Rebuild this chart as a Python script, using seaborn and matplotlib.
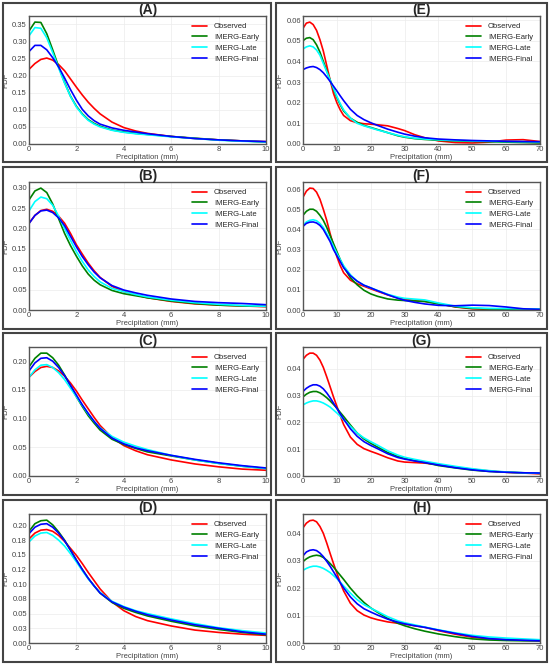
import numpy as np
import pandas as pd
import seaborn as sns
import matplotlib
matplotlib.use("Agg")
import matplotlib.pyplot as plt
from matplotlib.patches import Rectangle
from matplotlib.ticker import FormatStrFormatter

# precipitation grids (mm)
X10 = [0, 0.25, 0.5, 0.75, 1, 1.25, 1.5, 1.75, 2, 2.25, 2.5, 2.75, 3, 3.5, 4, 4.5, 5, 6, 7, 8, 9, 10]
X70 = [0, 1, 2, 3, 4, 5, 6, 7, 8, 9, 10, 11, 12, 14, 16, 18, 20, 22, 25, 28, 30, 33, 36, 40, 45, 50, 55, 60, 65, 70]

SERIES = ["Observed", "IMERG-Early", "IMERG-Late", "IMERG-Final"]
COLORS = ["#ff0000", "#008000", "#00ffff", "#0000ff"]

# (A)
A_OBS = [0.218, 0.235, 0.247, 0.251, 0.245, 0.232, 0.214, 0.190, 0.166, 0.143, 0.122, 0.104, 0.088, 0.064, 0.048, 0.038, 0.031, 0.022, 0.016, 0.012, 0.009, 0.007]
A_EARLY = [0.330, 0.356, 0.355, 0.322, 0.275, 0.226, 0.180, 0.140, 0.110, 0.088, 0.071, 0.060, 0.052, 0.041, 0.035, 0.031, 0.028, 0.022, 0.017, 0.012, 0.009, 0.006]
A_LATE = [0.316, 0.340, 0.338, 0.310, 0.267, 0.222, 0.178, 0.139, 0.108, 0.086, 0.069, 0.058, 0.050, 0.040, 0.034, 0.030, 0.027, 0.021, 0.016, 0.011, 0.008, 0.006]
A_FINAL = [0.270, 0.288, 0.288, 0.275, 0.252, 0.225, 0.193, 0.159, 0.128, 0.101, 0.082, 0.068, 0.058, 0.047, 0.040, 0.035, 0.030, 0.022, 0.016, 0.012, 0.009, 0.007]
# (B)
B_OBS = [0.213, 0.232, 0.244, 0.247, 0.242, 0.230, 0.213, 0.188, 0.160, 0.137, 0.115, 0.096, 0.080, 0.058, 0.045, 0.037, 0.030, 0.021, 0.015, 0.012, 0.010, 0.008]
B_EARLY = [0.270, 0.292, 0.299, 0.288, 0.260, 0.224, 0.188, 0.158, 0.132, 0.108, 0.088, 0.073, 0.062, 0.048, 0.040, 0.035, 0.030, 0.022, 0.016, 0.012, 0.010, 0.009]
B_LATE = [0.243, 0.266, 0.277, 0.273, 0.257, 0.230, 0.200, 0.171, 0.143, 0.119, 0.098, 0.082, 0.069, 0.053, 0.045, 0.038, 0.032, 0.024, 0.018, 0.014, 0.011, 0.009]
B_FINAL = [0.212, 0.232, 0.243, 0.245, 0.239, 0.226, 0.207, 0.181, 0.155, 0.131, 0.111, 0.093, 0.079, 0.060, 0.049, 0.042, 0.036, 0.027, 0.021, 0.018, 0.016, 0.013]
# (C)
C_OBS = [0.172, 0.182, 0.189, 0.191, 0.189, 0.183, 0.174, 0.162, 0.148, 0.132, 0.117, 0.102, 0.088, 0.067, 0.053, 0.044, 0.037, 0.028, 0.021, 0.016, 0.012, 0.010]
C_EARLY = [0.190, 0.205, 0.214, 0.214, 0.206, 0.193, 0.176, 0.157, 0.138, 0.121, 0.105, 0.092, 0.080, 0.064, 0.055, 0.048, 0.042, 0.035, 0.028, 0.022, 0.017, 0.013]
C_LATE = [0.172, 0.185, 0.193, 0.194, 0.189, 0.180, 0.168, 0.153, 0.138, 0.123, 0.108, 0.095, 0.084, 0.069, 0.059, 0.052, 0.046, 0.036, 0.028, 0.022, 0.017, 0.013]
C_FINAL = [0.183, 0.197, 0.205, 0.206, 0.200, 0.189, 0.175, 0.158, 0.141, 0.124, 0.109, 0.095, 0.083, 0.066, 0.056, 0.049, 0.044, 0.036, 0.029, 0.023, 0.018, 0.014]
# (D)
D_OBS = [0.177, 0.187, 0.192, 0.193, 0.190, 0.183, 0.173, 0.161, 0.149, 0.135, 0.120, 0.106, 0.092, 0.070, 0.055, 0.045, 0.038, 0.029, 0.022, 0.018, 0.015, 0.013]
D_EARLY = [0.190, 0.203, 0.208, 0.209, 0.201, 0.189, 0.175, 0.158, 0.141, 0.125, 0.110, 0.097, 0.085, 0.069, 0.059, 0.052, 0.046, 0.037, 0.029, 0.023, 0.018, 0.014]
D_LATE = [0.172, 0.182, 0.187, 0.188, 0.183, 0.175, 0.165, 0.152, 0.138, 0.123, 0.109, 0.097, 0.086, 0.071, 0.062, 0.055, 0.050, 0.041, 0.033, 0.026, 0.021, 0.017]
D_FINAL = [0.186, 0.197, 0.202, 0.203, 0.197, 0.187, 0.174, 0.158, 0.141, 0.125, 0.110, 0.097, 0.085, 0.070, 0.061, 0.054, 0.048, 0.039, 0.031, 0.025, 0.019, 0.015]
# (E)
E_OBS = [0.056, 0.0585, 0.059, 0.0578, 0.055, 0.0505, 0.045, 0.038, 0.031, 0.0245, 0.020, 0.0165, 0.0138, 0.0113, 0.0103, 0.0098, 0.0096, 0.0093, 0.0088, 0.0075, 0.0065, 0.0045, 0.003, 0.0015, 0.0007, 0.0005, 0.0009, 0.0019, 0.0021, 0.0012]
E_EARLY = [0.050, 0.0512, 0.0515, 0.0505, 0.048, 0.0445, 0.040, 0.0355, 0.031, 0.0265, 0.0225, 0.019, 0.016, 0.0125, 0.0105, 0.009, 0.008, 0.007, 0.0055, 0.004, 0.0033, 0.0026, 0.0022, 0.0018, 0.0015, 0.0013, 0.0011, 0.0009, 0.0007, 0.0005]
E_LATE = [0.046, 0.047, 0.0475, 0.047, 0.0455, 0.043, 0.039, 0.035, 0.031, 0.027, 0.023, 0.0195, 0.0165, 0.0125, 0.010, 0.0088, 0.0078, 0.0068, 0.0055, 0.0042, 0.0035, 0.0028, 0.0024, 0.002, 0.0017, 0.0015, 0.0013, 0.0012, 0.0011, 0.001]
E_FINAL = [0.036, 0.0368, 0.0373, 0.0375, 0.037, 0.036, 0.0345, 0.0325, 0.0303, 0.028, 0.0257, 0.0233, 0.021, 0.0168, 0.0138, 0.0118, 0.0103, 0.009, 0.0072, 0.0057, 0.0048, 0.0038, 0.003, 0.0024, 0.002, 0.0017, 0.0015, 0.0013, 0.0012, 0.0011]
# (F)
F_OBS = [0.056, 0.059, 0.0605, 0.0603, 0.0585, 0.055, 0.050, 0.0445, 0.038, 0.032, 0.0265, 0.022, 0.0185, 0.0148, 0.013, 0.0118, 0.0105, 0.0093, 0.0075, 0.006, 0.0053, 0.0047, 0.0043, 0.0032, 0.0015, 0.0006, 0.0003, 0.0003, 0.0004, 0.0005]
F_EARLY = [0.047, 0.049, 0.050, 0.050, 0.049, 0.047, 0.0445, 0.041, 0.037, 0.033, 0.029, 0.025, 0.0215, 0.016, 0.0125, 0.0098, 0.008, 0.0068, 0.0055, 0.0049, 0.0047, 0.0045, 0.0042, 0.003, 0.0016, 0.0008, 0.0005, 0.0004, 0.0003, 0.0003]
F_LATE = [0.042, 0.0437, 0.0445, 0.0448, 0.0443, 0.043, 0.041, 0.038, 0.035, 0.0315, 0.028, 0.025, 0.022, 0.0175, 0.0143, 0.0123, 0.011, 0.0097, 0.0078, 0.0064, 0.0058, 0.0054, 0.005, 0.0035, 0.0019, 0.0011, 0.0008, 0.0007, 0.0006, 0.0005]
F_FINAL = [0.0415, 0.043, 0.0436, 0.0437, 0.0432, 0.042, 0.040, 0.037, 0.034, 0.030, 0.027, 0.024, 0.021, 0.017, 0.0143, 0.0123, 0.011, 0.0096, 0.0076, 0.0058, 0.0048, 0.0038, 0.003, 0.0023, 0.0021, 0.0024, 0.0022, 0.0015, 0.0006, 0.0003]
# (G)
G_OBS = [0.0435, 0.045, 0.0458, 0.0458, 0.045, 0.0432, 0.0405, 0.037, 0.0333, 0.0295, 0.026, 0.0225, 0.0192, 0.0145, 0.0118, 0.0102, 0.0092, 0.0083, 0.0068, 0.0056, 0.0052, 0.005, 0.0048, 0.0042, 0.0033, 0.0025, 0.0019, 0.0014, 0.0011, 0.0008]
G_EARLY = [0.0295, 0.0305, 0.0312, 0.0315, 0.0315, 0.031, 0.0302, 0.0292, 0.028, 0.0267, 0.0253, 0.0237, 0.0222, 0.019, 0.016, 0.0138, 0.0122, 0.0108, 0.0088, 0.0073, 0.0066, 0.0057, 0.005, 0.0039, 0.003, 0.0022, 0.0017, 0.0014, 0.0012, 0.001]
G_LATE = [0.0265, 0.0272, 0.0277, 0.028, 0.028, 0.0277, 0.0272, 0.0265, 0.0257, 0.0246, 0.0235, 0.0223, 0.021, 0.0185, 0.016, 0.0142, 0.0128, 0.0115, 0.0094, 0.0078, 0.007, 0.0062, 0.0055, 0.0046, 0.0036, 0.0027, 0.002, 0.0015, 0.0012, 0.001]
G_FINAL = [0.0315, 0.0327, 0.0335, 0.034, 0.034, 0.0335, 0.0325, 0.031, 0.0292, 0.0272, 0.0252, 0.0232, 0.0212, 0.0176, 0.0148, 0.0128, 0.0114, 0.0102, 0.0083, 0.0069, 0.0063, 0.0056, 0.005, 0.0041, 0.0031, 0.0023, 0.0017, 0.0014, 0.0012, 0.0011]
# (H)
H_OBS = [0.042, 0.0437, 0.0446, 0.0448, 0.0442, 0.0425, 0.040, 0.0365, 0.0327, 0.029, 0.0255, 0.022, 0.019, 0.0145, 0.0118, 0.0102, 0.0092, 0.0085, 0.0077, 0.0072, 0.0069, 0.0063, 0.0057, 0.0045, 0.0032, 0.0021, 0.0015, 0.0012, 0.001, 0.0008]
H_EARLY = [0.0297, 0.0307, 0.0314, 0.0318, 0.032, 0.0318, 0.0312, 0.0302, 0.029, 0.0277, 0.0262, 0.0247, 0.0232, 0.020, 0.0172, 0.0148, 0.0128, 0.0112, 0.009, 0.0072, 0.0063, 0.0052, 0.0043, 0.0033, 0.0023, 0.0015, 0.0011, 0.0009, 0.0008, 0.0008]
H_LATE = [0.0265, 0.0272, 0.0277, 0.028, 0.028, 0.0277, 0.0272, 0.0265, 0.0257, 0.0246, 0.0235, 0.0222, 0.0208, 0.0182, 0.0158, 0.014, 0.0127, 0.0115, 0.0096, 0.0081, 0.0074, 0.0066, 0.0058, 0.0048, 0.0037, 0.0028, 0.0022, 0.0018, 0.0015, 0.0012]
H_FINAL = [0.0318, 0.0332, 0.0338, 0.034, 0.0337, 0.0328, 0.0315, 0.0298, 0.028, 0.026, 0.024, 0.022, 0.0201, 0.0168, 0.0143, 0.0125, 0.0113, 0.0102, 0.0087, 0.0076, 0.007, 0.0063, 0.0057, 0.0047, 0.0035, 0.0024, 0.0016, 0.0012, 0.001, 0.0008]

PANELS = [
    ("(A)", X10, [A_OBS, A_EARLY, A_LATE, A_FINAL], 0.05),
    ("(B)", X10, [B_OBS, B_EARLY, B_LATE, B_FINAL], 0.05),
    ("(C)", X10, [C_OBS, C_EARLY, C_LATE, C_FINAL], 0.05),
    ("(D)", X10, [D_OBS, D_EARLY, D_LATE, D_FINAL], 0.025),
    ("(E)", X70, [E_OBS, E_EARLY, E_LATE, E_FINAL], 0.01),
    ("(F)", X70, [F_OBS, F_EARLY, F_LATE, F_FINAL], 0.01),
    ("(G)", X70, [G_OBS, G_EARLY, G_LATE, G_FINAL], 0.01),
    ("(H)", X70, [H_OBS, H_EARLY, H_LATE, H_FINAL], 0.01),
]

sns.set_theme(style="whitegrid")
plt.rcParams['font.family'] = ['Liberation Sans', 'DejaVu Sans']

W, H = 550, 666
fig = plt.figure(figsize=(W / 100, H / 100), dpi=100)

# pixel layout: panel boxes and axes
box_x = [(3, 271), (276, 547)]
box_y = [(3, 162), (167, 329), (333, 495), (500, 662)]
ax_x = [(29, 266), (303, 540)]
ax_y = [(16, 144), (182, 310), (347, 476), (514, 643)]

for i, (title, xs, vals, ystep) in enumerate(PANELS):
    col, row = i // 4, i % 4
    bx0, bx1 = box_x[col]
    by0, by1 = box_y[row]
    fig.patches.append(Rectangle((bx0 / W, 1 - by1 / H), (bx1 - bx0) / W, (by1 - by0) / H,
                                 transform=fig.transFigure, fill=False,
                                 edgecolor="#444444", linewidth=1.5))
    x0, x1 = ax_x[col]
    y0, y1 = ax_y[row]
    ax = fig.add_axes([x0 / W, 1 - y1 / H, (x1 - x0) / W, (y1 - y0) / H])

    df = pd.DataFrame({
        "Precipitation": np.concatenate([xs] * 4),
        "PDF": np.concatenate(vals),
        "Product": np.repeat(SERIES, len(xs)),
    })
    sns.lineplot(data=df, x="Precipitation", y="PDF", hue="Product",
                 palette=COLORS, linewidth=1.2, ax=ax, sort=False)

    xmax = xs[-1]
    ax.set_xlim(0, xmax)
    ax.set_xticks(np.arange(0, xmax + 0.1, 2 if xmax == 10 else 10))
    ymax = max(max(v) for v in vals)
    ax.set_ylim(0, ymax * 1.05)
    ax.set_yticks(np.arange(0, ymax * 1.05, ystep))
    ax.yaxis.set_major_formatter(FormatStrFormatter('%.2f'))

    ax.set_title(title, fontsize=10, fontweight="bold", pad=1.5)
    ax.set_xlabel("Precipitation (mm)", fontsize=5.5, color="#444444", labelpad=1)
    ax.set_ylabel("PDF", fontsize=5.5, color="#444444", labelpad=2)
    ax.tick_params(labelsize=5.5, labelcolor="#444444", pad=1.5, length=0)
    ax.grid(True, color="#ececec", linewidth=0.5)
    for s in ax.spines.values():
        s.set_color("#555555")
        s.set_linewidth(1.0)
    ax.legend(loc="upper right", frameon=False, fontsize=5.5,
              handlelength=2.0, handletextpad=0.9, labelspacing=0.45,
              borderaxespad=0.5)

fig.savefig("out.png", dpi=100, facecolor="white")
